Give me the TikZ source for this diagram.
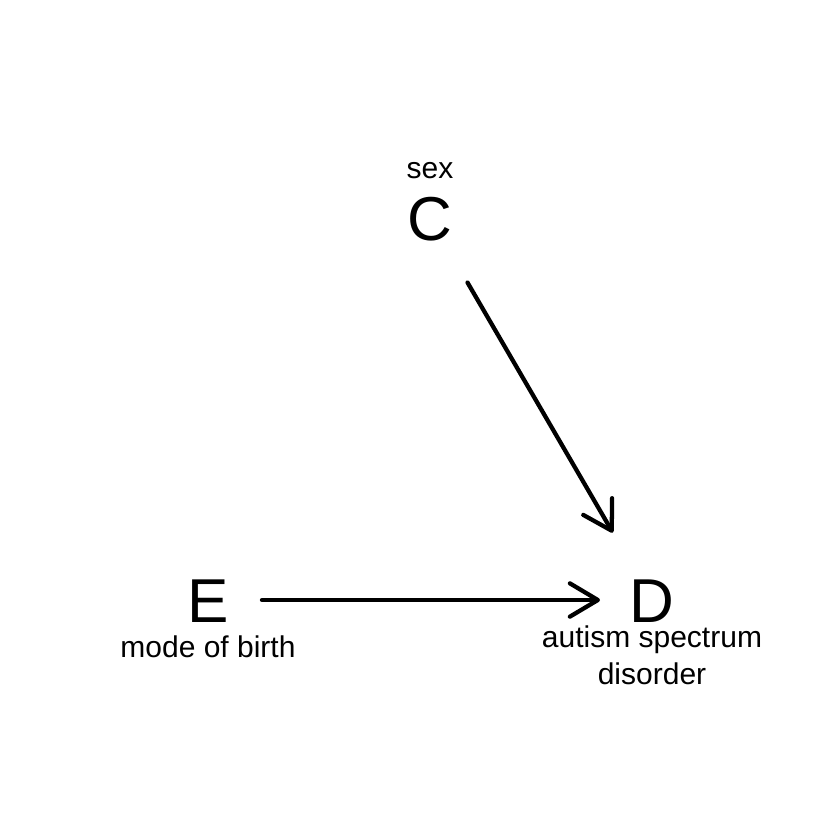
\documentclass[tikz,border=0pt]{standalone}
\usepackage{fontspec}
\setmainfont{Liberation Sans}
\usetikzlibrary{arrows.meta}
\begin{document}
\begin{tikzpicture}[x=0.75pt,y=-0.75pt,
  var/.style={font=\fontsize{46.5}{50}\selectfont, inner sep=0pt, text height=33.3pt, text depth=0pt},
  lab/.style={font=\fontsize{22.5}{27.75}\selectfont, inner sep=0pt, anchor=base, align=center},
  edge/.style={line width=3.2pt, line cap=round, line join=round,
    -{Straight Barb[length=21pt,width=25pt,line cap=round,line join=round]}}]
\useasboundingbox[fill=white] (0,0) rectangle (840,840);
\node[var] (C) at (430,218) {C};
\node[var] (E) at (208,600) {E};
\node[var] (D) at (652,600) {D};
\node[lab] (Cl) at (430,178) {sex};
\node[lab] (El) at (208,657) {mode of birth};
\node[lab] (Dl) at (652,684) {autism spectrum\\disorder};
\draw[edge, shorten <=56pt, shorten >=58.5pt] (C.center) -- (D.center);
\draw[edge, shorten <=40.5pt, shorten >=39pt] (E.center) -- (D.center);
\end{tikzpicture}
\end{document}
